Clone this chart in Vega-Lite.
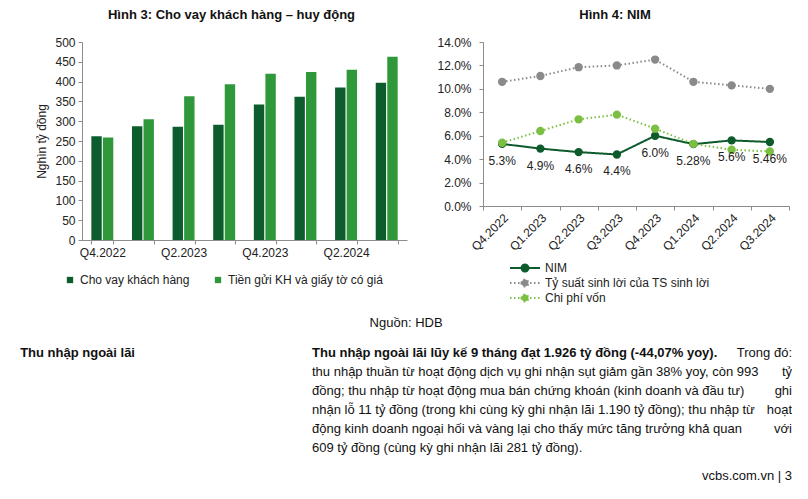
{
  "$schema": "https://vega.github.io/schema/vega-lite/v6.json",
  "background": "white",
  "padding": {"left": 20, "top": 9, "right": 0, "bottom": 0},
  "config": {
    "font": "Liberation Sans",
    "view": {"stroke": null},
    "axis": {"labelFont": "Liberation Sans", "labelFontSize": 12, "labelColor": "#222", "domainColor": "#8c8c8c", "tickColor": "#8c8c8c", "grid": false, "titleFont": "Liberation Sans", "titleFontWeight": "normal", "titleColor": "#222", "titleFontSize": 12},
    "legend": {"labelFont": "Liberation Sans", "labelFontSize": 12, "labelColor": "#222", "padding": 0},
    "title": {"font": "Liberation Sans", "fontSize": 13, "fontWeight": "bold", "color": "#111"}
  },
  "spacing": 11,
  "resolve": {"scale": {"color": "independent", "strokeDash": "independent"}, "legend": {"color": "independent"}},
  "vconcat": [
    {
      "spacing": 29,
      "resolve": {"scale": {"color": "independent", "strokeDash": "independent"}, "legend": {"color": "independent"}},
      "hconcat": [
        {
          "width": 325,
          "height": 198,
          "title": {"text": "Hình 3: Cho vay khách hàng – huy động", "offset": 14, "dx": -13},
          "data": {"values": [
            {"quarter": "Q4.2022", "series": "Cho vay khách hàng", "value": 262},
            {"quarter": "Q4.2022", "series": "Tiền gửi KH và giấy tờ có giá", "value": 259},
            {"quarter": "Q1.2023", "series": "Cho vay khách hàng", "value": 287},
            {"quarter": "Q1.2023", "series": "Tiền gửi KH và giấy tờ có giá", "value": 305},
            {"quarter": "Q2.2023", "series": "Cho vay khách hàng", "value": 286},
            {"quarter": "Q2.2023", "series": "Tiền gửi KH và giấy tờ có giá", "value": 363},
            {"quarter": "Q3.2023", "series": "Cho vay khách hàng", "value": 291},
            {"quarter": "Q3.2023", "series": "Tiền gửi KH và giấy tờ có giá", "value": 393},
            {"quarter": "Q4.2023", "series": "Cho vay khách hàng", "value": 342},
            {"quarter": "Q4.2023", "series": "Tiền gửi KH và giấy tờ có giá", "value": 420},
            {"quarter": "Q1.2024", "series": "Cho vay khách hàng", "value": 362},
            {"quarter": "Q1.2024", "series": "Tiền gửi KH và giấy tờ có giá", "value": 424},
            {"quarter": "Q2.2024", "series": "Cho vay khách hàng", "value": 385},
            {"quarter": "Q2.2024", "series": "Tiền gửi KH và giấy tờ có giá", "value": 430},
            {"quarter": "Q3.2024", "series": "Cho vay khách hàng", "value": 397},
            {"quarter": "Q3.2024", "series": "Tiền gửi KH và giấy tờ có giá", "value": 463}
          ]},
          "mark": {"type": "bar"},
          "encoding": {
            "x": {
              "field": "quarter", "type": "ordinal",
              "sort": ["Q4.2022", "Q1.2023", "Q2.2023", "Q3.2023", "Q4.2023", "Q1.2024", "Q2.2024", "Q3.2024"],
              "scale": {"paddingInner": 0.46, "paddingOuter": 0.23},
              "axis": {"title": null, "labelAngle": 0, "tickBand": "extent", "tickSize": 4, "labelPadding": 3, "labelOverlap": false,
                       "labelExpr": "indexof(['Q4.2022','Q2.2023','Q4.2023','Q2.2024'], datum.value) >= 0 ? datum.value : ''"}
            },
            "xOffset": {"field": "series", "type": "nominal", "sort": ["Cho vay khách hàng", "Tiền gửi KH và giấy tờ có giá"], "scale": {"paddingInner": 0.1}},
            "y": {
              "field": "value", "type": "quantitative",
              "scale": {"domain": [0, 500]},
              "axis": {"title": "Nghìn tỷ đồng", "values": [0, 50, 100, 150, 200, 250, 300, 350, 400, 450, 500], "tickSize": 4, "labelPadding": 3, "titlePadding": 6}
            },
            "color": {
              "field": "series", "type": "nominal",
              "scale": {"domain": ["Cho vay khách hàng", "Tiền gửi KH và giấy tờ có giá"], "range": ["#0c5c2e", "#2f983a"]},
              "legend": {"orient": "none", "legendX": -18, "legendY": 232, "direction": "horizontal", "title": null, "symbolType": "square", "symbolSize": 40, "columnPadding": 22}
            }
          }
        },
        {
          "width": 306,
          "height": 164,
          "title": {"text": "Hình 4: NIM", "offset": 14, "dx": -21},
          "data": {"values": [
            {"quarter": "Q4.2022", "series": "NIM", "value": 0.053, "label": "5.3%"},
            {"quarter": "Q1.2023", "series": "NIM", "value": 0.049, "label": "4.9%"},
            {"quarter": "Q2.2023", "series": "NIM", "value": 0.046, "label": "4.6%"},
            {"quarter": "Q3.2023", "series": "NIM", "value": 0.044, "label": "4.4%"},
            {"quarter": "Q4.2023", "series": "NIM", "value": 0.060, "label": "6.0%"},
            {"quarter": "Q1.2024", "series": "NIM", "value": 0.0528, "label": "5.28%"},
            {"quarter": "Q2.2024", "series": "NIM", "value": 0.056, "label": "5.6%"},
            {"quarter": "Q3.2024", "series": "NIM", "value": 0.0546, "label": "5.46%"},
            {"quarter": "Q4.2022", "series": "Tỷ suất sinh lời của TS sinh lời", "value": 0.106},
            {"quarter": "Q1.2023", "series": "Tỷ suất sinh lời của TS sinh lời", "value": 0.111},
            {"quarter": "Q2.2023", "series": "Tỷ suất sinh lời của TS sinh lời", "value": 0.1185},
            {"quarter": "Q3.2023", "series": "Tỷ suất sinh lời của TS sinh lời", "value": 0.120},
            {"quarter": "Q4.2023", "series": "Tỷ suất sinh lời của TS sinh lời", "value": 0.125},
            {"quarter": "Q1.2024", "series": "Tỷ suất sinh lời của TS sinh lời", "value": 0.106},
            {"quarter": "Q2.2024", "series": "Tỷ suất sinh lời của TS sinh lời", "value": 0.103},
            {"quarter": "Q3.2024", "series": "Tỷ suất sinh lời của TS sinh lời", "value": 0.100},
            {"quarter": "Q4.2022", "series": "Chi phí vốn", "value": 0.054},
            {"quarter": "Q1.2023", "series": "Chi phí vốn", "value": 0.064},
            {"quarter": "Q2.2023", "series": "Chi phí vốn", "value": 0.074},
            {"quarter": "Q3.2023", "series": "Chi phí vốn", "value": 0.078},
            {"quarter": "Q4.2023", "series": "Chi phí vốn", "value": 0.066},
            {"quarter": "Q1.2024", "series": "Chi phí vốn", "value": 0.053},
            {"quarter": "Q2.2024", "series": "Chi phí vốn", "value": 0.048},
            {"quarter": "Q3.2024", "series": "Chi phí vốn", "value": 0.0465}
          ]},
          "encoding": {
            "x": {
              "field": "quarter", "type": "ordinal",
              "sort": ["Q4.2022", "Q1.2023", "Q2.2023", "Q3.2023", "Q4.2023", "Q1.2024", "Q2.2024", "Q3.2024"],
              "scale": {"type": "band", "paddingInner": 0, "paddingOuter": 0},
              "axis": {"title": null, "labelAngle": -45, "tickBand": "extent", "tickSize": 4, "labelPadding": 2}
            },
            "y": {
              "field": "value", "type": "quantitative",
              "scale": {"domain": [0, 0.14]},
              "axis": {"title": null, "format": ".1%", "values": [0, 0.02, 0.04, 0.06, 0.08, 0.10, 0.12, 0.14], "tickSize": 4, "labelPadding": 8}
            }
          },
          "layer": [
            {
              "mark": {"type": "line", "strokeWidth": 2},
              "encoding": {
                "color": {
                  "field": "series", "type": "nominal",
                  "scale": {"domain": ["NIM", "Tỷ suất sinh lời của TS sinh lời", "Chi phí vốn"], "range": ["#0d5a2b", "#8a8a8a", "#7cc043"]},
                  "legend": {
                    "orient": "none", "legendX": 35, "legendY": 219, "direction": "vertical", "title": null,
                    "symbolType": "M-2.5,0L2.5,0M-0.58,0A0.58,0.58,0,1,0,0.58,0A0.58,0.58,0,1,0,-0.58,0",
                    "symbolSize": 144, "symbolStrokeWidth": 2, "labelOffset": 13, "rowPadding": -2, "labelLimit": 300,
                    "encode": {"symbols": {"update": {"fill": {"signal": "datum.value === 'NIM' ? '#0d5a2b' : datum.value === 'Chi phí vốn' ? '#7cc043' : '#8a8a8a'"}}}}
                  }
                },
                "strokeDash": {
                  "field": "series", "type": "nominal",
                  "scale": {"domain": ["NIM", "Tỷ suất sinh lời của TS sinh lời", "Chi phí vốn"], "range": [[1, 0], [1.5, 2.5], [1.5, 2.5]]},
                  "legend": null
                }
              }
            },
            {
              "mark": {"type": "point", "filled": true, "size": 70, "opacity": 1},
              "encoding": {
                "color": {"field": "series", "type": "nominal", "legend": null}
              }
            },
            {
              "transform": [{"filter": "datum.series === 'NIM'"}],
              "mark": {"type": "text", "dy": 17, "fontSize": 12, "color": "#222"},
              "encoding": {"text": {"field": "label"}}
            }
          ]
        }
      ]
    },
    {
      "title": {"text": "Nguồn: HDB", "fontWeight": "normal", "fontSize": 13, "anchor": "middle", "frame": "bounds", "color": "#111", "offset": 13},
      "spacing": 177,
      "hconcat": [
        {
          "width": 53,
          "height": 134,
          "data": {"values": [
            {"col": "end", "line": 1, "text": "Thu nhập ngoài lãi"}
          ]},
          "mark": {"type": "text", "align": "right", "baseline": "middle", "fontSize": 13, "fontWeight": "bold", "color": "#111"},
          "encoding": {
            "x": {"field": "col", "type": "nominal", "scale": {"type": "point", "domain": ["start", "end"], "padding": 0}, "axis": null},
            "y": {"field": "line", "type": "quantitative", "scale": {"domain": [0.5, 7.5], "reverse": true}, "axis": null},
            "text": {"field": "text"}
          }
        },
        {
          "width": 480,
          "height": 134,
          "encoding": {
            "x": {"field": "col", "type": "nominal", "scale": {"type": "point", "domain": ["start", "end"], "padding": 0}, "axis": null},
            "y": {"field": "line", "type": "quantitative", "scale": {"domain": [0.5, 7.5], "reverse": true}, "axis": null},
            "text": {"field": "text"}
          },
          "layer": [
            {
              "data": {"values": [
                {"col": "start", "line": 1, "text": "Thu nhập ngoài lãi lũy kế 9 tháng đạt 1.926 tỷ đồng (-44,07% yoy)."}
              ]},
              "mark": {"type": "text", "align": "left", "baseline": "middle", "fontSize": 13, "fontWeight": "bold", "color": "#111"}
            },
            {
              "data": {"values": [
                {"col": "start", "line": 2, "text": "thu nhập thuần từ hoạt động dịch vụ ghi nhận sụt giảm gần 38% yoy, còn 993"},
                {"col": "start", "line": 3, "text": "đồng; thu nhập từ hoạt động mua bán chứng khoán (kinh doanh và đầu tư)"},
                {"col": "start", "line": 4, "text": "nhận lỗ 11 tỷ đồng (trong khi cùng kỳ ghi nhận lãi 1.190 tỷ đồng); thu nhập từ"},
                {"col": "start", "line": 5, "text": "động kinh doanh ngoại hối và vàng lại cho thấy mức tăng trưởng khả quan"},
                {"col": "start", "line": 6, "text": "609 tỷ đồng (cùng kỳ ghi nhận lãi 281 tỷ đồng)."}
              ]},
              "mark": {"type": "text", "align": "left", "baseline": "middle", "fontSize": 13, "color": "#111"}
            },
            {
              "data": {"values": [
                {"col": "end", "line": 1, "text": "Trong đó:"},
                {"col": "end", "line": 2, "text": "tỷ"},
                {"col": "end", "line": 3, "text": "ghi"},
                {"col": "end", "line": 4, "text": "hoạt"},
                {"col": "end", "line": 5, "text": "với"},
                {"col": "end", "line": 7.45, "text": "vcbs.com.vn | 3"}
              ]},
              "mark": {"type": "text", "align": "right", "baseline": "middle", "fontSize": 13, "color": "#111"}
            }
          ]
        }
      ]
    }
  ]
}
